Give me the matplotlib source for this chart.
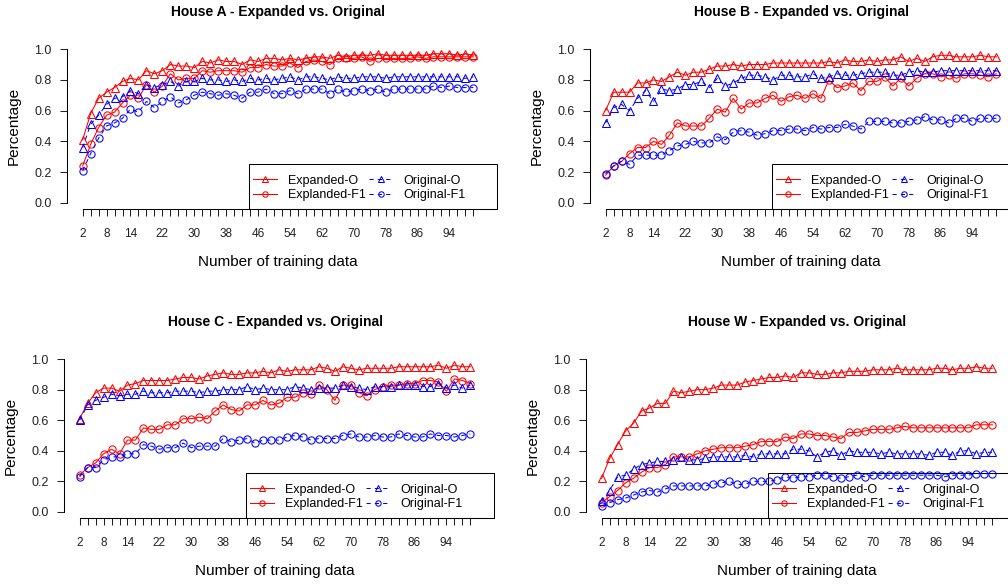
import numpy as np
import matplotlib.pyplot as plt
from matplotlib.patches import Rectangle

plt.rcParams['font.family'] = ['Liberation Sans', 'DejaVu Sans']

n_train = list(range(2, 101, 2))
xtick_labels = [2, 8, 14, 22, 30, 38, 46, 54, 62, 70, 78, 86, 94]

# House A
a_exp_o = [0.41, 0.58, 0.68, 0.72, 0.75, 0.79, 0.81, 0.80, 0.86, 0.84,
           0.86, 0.90, 0.89, 0.89, 0.88, 0.92, 0.91, 0.93, 0.92, 0.92,
           0.90, 0.93, 0.92, 0.94, 0.94, 0.93, 0.94, 0.93, 0.94, 0.95,
           0.95, 0.94, 0.96, 0.95, 0.96, 0.96, 0.96, 0.97, 0.96, 0.96,
           0.96, 0.96, 0.96, 0.96, 0.97, 0.97, 0.97, 0.96, 0.97, 0.96]
a_exp_f1 = [0.24, 0.38, 0.49, 0.57, 0.59, 0.65, 0.70, 0.68, 0.77, 0.72,
            0.76, 0.84, 0.80, 0.81, 0.81, 0.86, 0.85, 0.86, 0.86, 0.86,
            0.85, 0.88, 0.88, 0.90, 0.89, 0.89, 0.91, 0.88, 0.92, 0.93,
            0.92, 0.90, 0.94, 0.94, 0.94, 0.95, 0.92, 0.94, 0.94, 0.94,
            0.94, 0.94, 0.95, 0.94, 0.95, 0.95, 0.95, 0.95, 0.95, 0.95]
a_org_o = [0.36, 0.51, 0.57, 0.64, 0.68, 0.69, 0.73, 0.71, 0.77, 0.75,
           0.77, 0.79, 0.76, 0.79, 0.79, 0.81, 0.80, 0.80, 0.79, 0.80,
           0.79, 0.81, 0.80, 0.81, 0.80, 0.81, 0.82, 0.80, 0.82, 0.82,
           0.81, 0.80, 0.82, 0.81, 0.81, 0.82, 0.82, 0.82, 0.81, 0.82,
           0.82, 0.82, 0.82, 0.82, 0.82, 0.82, 0.82, 0.82, 0.81, 0.82]
a_org_f1 = [0.21, 0.32, 0.42, 0.50, 0.52, 0.55, 0.61, 0.59, 0.66, 0.62,
            0.66, 0.69, 0.65, 0.67, 0.70, 0.72, 0.71, 0.70, 0.71, 0.70,
            0.68, 0.72, 0.72, 0.74, 0.71, 0.71, 0.73, 0.71, 0.74, 0.74,
            0.74, 0.71, 0.74, 0.72, 0.73, 0.74, 0.73, 0.74, 0.72, 0.74,
            0.74, 0.74, 0.74, 0.74, 0.76, 0.75, 0.76, 0.75, 0.75, 0.75]

# House B
b_exp_o = [0.60, 0.72, 0.72, 0.72, 0.78, 0.78, 0.80, 0.79, 0.82, 0.85,
           0.83, 0.85, 0.85, 0.87, 0.89, 0.89, 0.90, 0.89, 0.90, 0.90,
           0.90, 0.91, 0.91, 0.91, 0.91, 0.91, 0.91, 0.91, 0.92, 0.91,
           0.93, 0.92, 0.92, 0.93, 0.92, 0.93, 0.93, 0.95, 0.92, 0.94,
           0.92, 0.95, 0.96, 0.96, 0.95, 0.95, 0.95, 0.96, 0.95, 0.95]
b_exp_f1 = [0.18, 0.24, 0.27, 0.32, 0.36, 0.36, 0.40, 0.38, 0.44, 0.52,
            0.50, 0.50, 0.50, 0.55, 0.61, 0.59, 0.68, 0.61, 0.65, 0.65,
            0.68, 0.70, 0.66, 0.69, 0.70, 0.68, 0.71, 0.68, 0.80, 0.75,
            0.76, 0.78, 0.73, 0.79, 0.79, 0.82, 0.76, 0.81, 0.76, 0.81,
            0.84, 0.84, 0.82, 0.83, 0.81, 0.84, 0.84, 0.83, 0.82, 0.84]
b_org_o = [0.52, 0.62, 0.64, 0.60, 0.68, 0.73, 0.66, 0.74, 0.73, 0.74,
           0.77, 0.77, 0.79, 0.75, 0.81, 0.76, 0.78, 0.81, 0.83, 0.83,
           0.82, 0.80, 0.83, 0.83, 0.82, 0.82, 0.84, 0.81, 0.82, 0.84,
           0.83, 0.83, 0.84, 0.85, 0.85, 0.85, 0.83, 0.83, 0.85, 0.86,
           0.85, 0.85, 0.86, 0.86, 0.86, 0.86, 0.86, 0.86, 0.86, 0.86]
b_org_f1 = [0.19, 0.24, 0.27, 0.25, 0.31, 0.31, 0.31, 0.31, 0.34, 0.37,
            0.38, 0.40, 0.39, 0.39, 0.43, 0.41, 0.46, 0.47, 0.46, 0.44,
            0.45, 0.47, 0.47, 0.48, 0.48, 0.47, 0.49, 0.48, 0.49, 0.49,
            0.51, 0.50, 0.48, 0.53, 0.53, 0.53, 0.52, 0.52, 0.53, 0.54,
            0.56, 0.54, 0.54, 0.52, 0.55, 0.55, 0.53, 0.55, 0.55, 0.55]

# House C
c_exp_o = [0.61, 0.71, 0.78, 0.81, 0.81, 0.79, 0.83, 0.84, 0.86, 0.86,
           0.86, 0.86, 0.87, 0.88, 0.88, 0.87, 0.89, 0.90, 0.91, 0.90,
           0.90, 0.91, 0.91, 0.92, 0.91, 0.93, 0.92, 0.93, 0.93, 0.93,
           0.95, 0.94, 0.92, 0.95, 0.94, 0.93, 0.94, 0.94, 0.94, 0.94,
           0.95, 0.95, 0.95, 0.95, 0.95, 0.96, 0.94, 0.96, 0.95, 0.95]
c_exp_f1 = [0.24, 0.29, 0.32, 0.38, 0.41, 0.38, 0.47, 0.47, 0.55, 0.54,
            0.54, 0.57, 0.57, 0.61, 0.61, 0.62, 0.61, 0.66, 0.70, 0.67,
            0.66, 0.70, 0.70, 0.73, 0.70, 0.71, 0.75, 0.75, 0.78, 0.77,
            0.83, 0.80, 0.73, 0.83, 0.83, 0.78, 0.76, 0.80, 0.82, 0.83,
            0.83, 0.84, 0.84, 0.86, 0.86, 0.85, 0.79, 0.87, 0.86, 0.84]
c_org_o = [0.60, 0.70, 0.73, 0.75, 0.77, 0.76, 0.77, 0.77, 0.79, 0.78,
           0.78, 0.78, 0.79, 0.79, 0.79, 0.78, 0.79, 0.79, 0.80, 0.80,
           0.80, 0.82, 0.80, 0.81, 0.80, 0.80, 0.80, 0.82, 0.81, 0.80,
           0.81, 0.81, 0.81, 0.83, 0.82, 0.81, 0.80, 0.82, 0.82, 0.82,
           0.83, 0.83, 0.83, 0.82, 0.82, 0.84, 0.81, 0.83, 0.81, 0.83]
c_org_f1 = [0.23, 0.29, 0.29, 0.34, 0.36, 0.36, 0.38, 0.38, 0.44, 0.43,
            0.41, 0.42, 0.42, 0.45, 0.42, 0.43, 0.43, 0.43, 0.48, 0.46,
            0.47, 0.48, 0.45, 0.47, 0.47, 0.47, 0.49, 0.50, 0.49, 0.47,
            0.48, 0.48, 0.48, 0.50, 0.51, 0.49, 0.49, 0.50, 0.49, 0.49,
            0.51, 0.50, 0.49, 0.49, 0.51, 0.50, 0.50, 0.49, 0.50, 0.51]

# House W
w_exp_o = [0.22, 0.35, 0.44, 0.53, 0.58, 0.66, 0.68, 0.71, 0.71, 0.79,
           0.78, 0.79, 0.80, 0.80, 0.81, 0.83, 0.83, 0.83, 0.85, 0.86,
           0.87, 0.88, 0.88, 0.89, 0.88, 0.91, 0.91, 0.90, 0.90, 0.91,
           0.91, 0.92, 0.92, 0.92, 0.93, 0.93, 0.93, 0.94, 0.93, 0.93,
           0.93, 0.93, 0.94, 0.94, 0.93, 0.94, 0.94, 0.95, 0.94, 0.94]
w_exp_f1 = [0.06, 0.10, 0.14, 0.19, 0.22, 0.26, 0.29, 0.29, 0.31, 0.36,
            0.36, 0.36, 0.38, 0.40, 0.41, 0.42, 0.42, 0.42, 0.43, 0.44,
            0.46, 0.46, 0.46, 0.49, 0.48, 0.51, 0.51, 0.50, 0.50, 0.49,
            0.48, 0.52, 0.52, 0.53, 0.54, 0.54, 0.54, 0.55, 0.56, 0.55,
            0.55, 0.55, 0.55, 0.55, 0.55, 0.55, 0.55, 0.57, 0.57, 0.57]
w_org_o = [0.07, 0.14, 0.23, 0.24, 0.28, 0.31, 0.32, 0.33, 0.33, 0.34,
           0.36, 0.34, 0.34, 0.35, 0.36, 0.36, 0.36, 0.36, 0.37, 0.36,
           0.38, 0.38, 0.38, 0.38, 0.41, 0.41, 0.40, 0.36, 0.39, 0.40,
           0.37, 0.40, 0.39, 0.39, 0.39, 0.38, 0.39, 0.38, 0.38, 0.38,
           0.38, 0.37, 0.39, 0.39, 0.37, 0.40, 0.40, 0.38, 0.39, 0.39]
w_org_f1 = [0.04, 0.06, 0.08, 0.09, 0.11, 0.13, 0.14, 0.13, 0.15, 0.17,
            0.17, 0.17, 0.17, 0.17, 0.18, 0.19, 0.20, 0.18, 0.18, 0.20,
            0.20, 0.20, 0.21, 0.23, 0.22, 0.23, 0.23, 0.24, 0.24, 0.23,
            0.22, 0.23, 0.24, 0.23, 0.24, 0.24, 0.24, 0.24, 0.24, 0.24,
            0.24, 0.24, 0.24, 0.23, 0.24, 0.24, 0.24, 0.25, 0.25, 0.25]

houses = ['A', 'B', 'C', 'W']
series = {
    'A': (a_exp_o, a_exp_f1, a_org_o, a_org_f1),
    'B': (b_exp_o, b_exp_f1, b_org_o, b_org_f1),
    'C': (c_exp_o, c_exp_f1, c_org_o, c_org_f1),
    'W': (w_exp_o, w_exp_f1, w_org_o, w_org_f1),
}
labels = ['Expanded-O', 'Explanded-F1', 'Original-O', 'Original-F1']

W, H = 1008, 584
# plot regions in pixels (left, top, right, bottom)
regions = {
    'A': (67, 43, 489, 209),
    'B': (590, 43, 1012, 209),
    'C': (64, 353, 486, 518),
    'W': (586, 353, 1008, 518),
}

fig = plt.figure(figsize=(W / 100, H / 100), dpi=100)

for house in houses:
    l, t, r, b = regions[house]
    ax = fig.add_axes([l / W, 1 - b / H, (r - l) / W, (b - t) / H])
    exp_o, exp_f1, org_o, org_f1 = series[house]
    styles = [
        (exp_o, 'red', '-', '^'),
        (exp_f1, 'red', '-', 'o'),
        (org_o, 'blue', '--', '^'),
        (org_f1, 'blue', '--', 'o'),
    ]
    handles = []
    for vals, col, ls, mk in styles:
        ln, = ax.plot(n_train, vals, color=col, linestyle=ls, marker=mk,
                      markersize=5.2, markerfacecolor='none',
                      markeredgewidth=0.75, linewidth=0.75, dashes=(4, 4) if ls == '--' else (None, None))
        handles.append(ln)

    ax.set_xlim(2 - 98 * 0.04, 100 + 98 * 0.04)
    ax.set_ylim(-0.04, 1.04)
    for s in ['top', 'right']:
        ax.spines[s].set_visible(False)
    ax.spines['left'].set_bounds(0, 1)
    ax.spines['bottom'].set_bounds(2, 100)
    for s in ['left', 'bottom']:
        ax.spines[s].set_linewidth(0.75)

    ax.set_yticks(np.arange(0, 1.01, 0.2))
    ax.set_yticklabels([f'{v:.1f}' for v in np.arange(0, 1.01, 0.2)])
    ax.set_xticks(n_train)
    ax.set_xticklabels([str(v) if v in xtick_labels else '' for v in n_train])
    ax.tick_params(axis='both', length=5, width=0.75, colors='#222222', labelcolor='#222222')
    ax.tick_params(axis='y', labelsize=9, pad=6)
    ax.tick_params(axis='x', labelsize=8.5, pad=9)

    ax.set_xlabel('Number of training data', fontsize=11)
    ax.xaxis.set_label_coords(0.5, -46 / (b - t))
    ax.set_ylabel('Percentage', fontsize=11, va='center')
    ax.yaxis.set_label_coords(-53 / (r - l), 0.5)
    ax.set_title(f'House {house} - Expanded vs. Original', fontsize=10,
                 fontweight='bold', y=1 + 31 / (b - t), va='center', pad=0)

    # legend box, R style: bottom right, 2 columns, no fill
    box_x0 = 1 - 240 / (r - l)
    box_h = 45 / (b - t)
    ax.add_patch(Rectangle((box_x0, 0), 1 - box_x0 + 0.02, box_h, transform=ax.transAxes,
                           fill=False, edgecolor='black', linewidth=0.75, clip_on=False))
    leg = ax.legend(handles, labels, ncol=2, loc='lower left',
                    bbox_to_anchor=(box_x0, 0.02), borderaxespad=0, frameon=False,
                    fontsize=9, handlelength=1.9, handletextpad=0.9, borderpad=0.35,
                    labelspacing=0.2, columnspacing=0.2, markerscale=0.75)

fig.savefig('out.png', dpi=100)
